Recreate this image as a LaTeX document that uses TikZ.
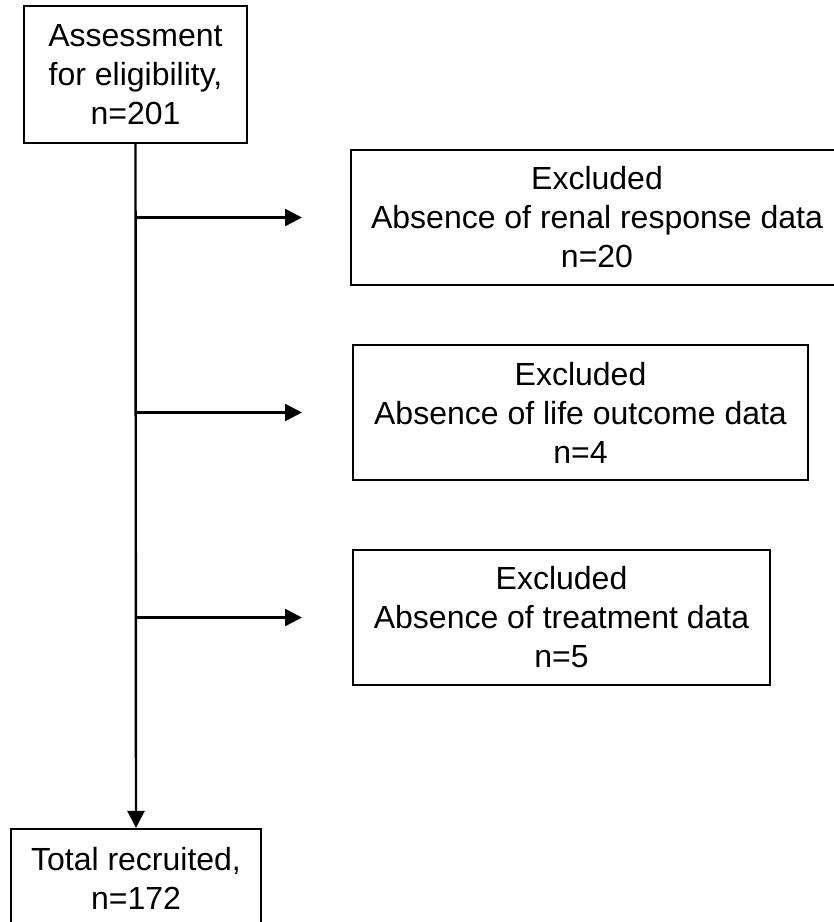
\documentclass[tikz,border=0pt]{standalone}
\usepackage{fontspec}
\setmainfont{Liberation Sans}
\usetikzlibrary{arrows.meta}
\tikzset{
  boxnode/.style={draw=black, line width=2.2pt, rectangle, align=center, inner sep=0pt,
    font=\fontsize{32}{39}\selectfont},
  flowline/.style={line width=2.4pt, -{Triangle[length=17pt 0 0,width=17pt 0 0]}}
}
\begin{document}
\begin{tikzpicture}[x=1pt,y=-1pt]
\useasboundingbox (0,0) rectangle (834,922);
\clip (0,0) rectangle (834,922);
\fill[white] (0,0) rectangle (834,922);

\node[boxnode, minimum width=223pt, minimum height=137pt] (top) at (135.5,74.5)
  {Assessment\\for eligibility,\\n=201};
\node[boxnode, minimum width=492pt, minimum height=135pt] (b1) at (597,217.5)
  {Excluded\\Absence of renal response data\\n=20};
\node[boxnode, minimum width=455pt, minimum height=135pt] (b2) at (580.5,412.5)
  {Excluded\\Absence of life outcome data\\n=4};
\node[boxnode, minimum width=417pt, minimum height=135pt] (b3) at (561.5,617.5)
  {Excluded\\Absence of treatment data\\n=5};
\node[boxnode, minimum width=250pt, minimum height=99pt] (bot) at (136,878.5)
  {Total recruited,\\n=172};

\draw[flowline] (top.south) -- (bot.north);

\coordinate (j1) at (top.south |- b1.west);
\coordinate (j2) at (top.south |- b2.west);
\coordinate (j3) at (top.south |- b3.west);
\coordinate (e1) at (302,217.5);
\coordinate (e2) at (302,412.5);
\coordinate (e3) at (302,617.5);

\draw[flowline] (j1) -- (e1);
\draw[flowline] (j2) -- (e2);
\draw[flowline] (j3) -- (e3);
\end{tikzpicture}
\end{document}
